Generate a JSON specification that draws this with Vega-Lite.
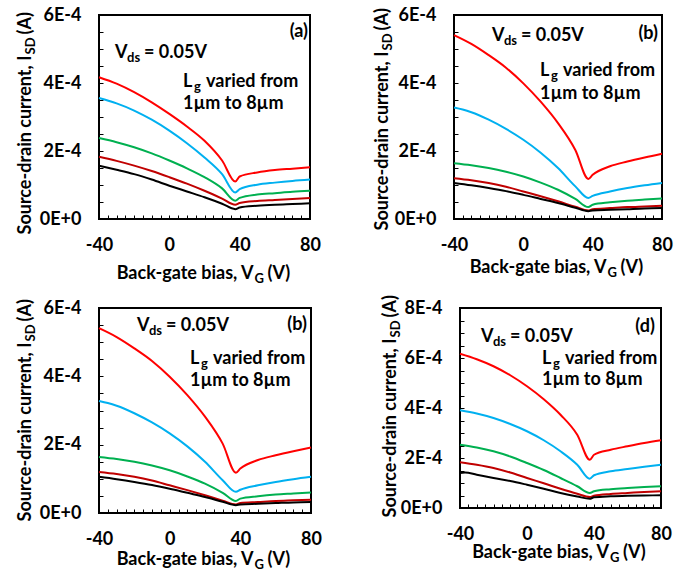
{
"$schema": "https://vega.github.io/schema/vega-lite/v6.json",
"padding": {"left": 14, "top": 5, "right": 5, "bottom": 5},
"spacing": 7,
"datasets": {
"a": [
{"V":-40,"I":4.17e-4,"s":"Lg1"},{"V":-30,"I":3.98e-4,"s":"Lg1"},{"V":-20,"I":3.73e-4,"s":"Lg1"},{"V":-10,"I":3.43e-4,"s":"Lg1"},{"V":0,"I":3.09e-4,"s":"Lg1"},{"V":10,"I":2.72e-4,"s":"Lg1"},{"V":20,"I":2.30e-4,"s":"Lg1"},{"V":30,"I":1.72e-4,"s":"Lg1"},{"V":37.5,"I":1.10e-4,"s":"Lg1"},{"V":40,"I":1.25e-4,"s":"Lg1"},{"V":50,"I":1.37e-4,"s":"Lg1"},{"V":60,"I":1.44e-4,"s":"Lg1"},{"V":70,"I":1.48e-4,"s":"Lg1"},{"V":80,"I":1.52e-4,"s":"Lg1"},
{"V":-40,"I":3.56e-4,"s":"Lg2"},{"V":-30,"I":3.40e-4,"s":"Lg2"},{"V":-20,"I":3.19e-4,"s":"Lg2"},{"V":-10,"I":2.92e-4,"s":"Lg2"},{"V":0,"I":2.60e-4,"s":"Lg2"},{"V":10,"I":2.23e-4,"s":"Lg2"},{"V":20,"I":1.81e-4,"s":"Lg2"},{"V":30,"I":1.32e-4,"s":"Lg2"},{"V":37.5,"I":0.78e-4,"s":"Lg2"},{"V":40,"I":0.88e-4,"s":"Lg2"},{"V":50,"I":1.01e-4,"s":"Lg2"},{"V":60,"I":1.07e-4,"s":"Lg2"},{"V":70,"I":1.12e-4,"s":"Lg2"},{"V":80,"I":1.16e-4,"s":"Lg2"},
{"V":-40,"I":2.38e-4,"s":"Lg3"},{"V":-30,"I":2.26e-4,"s":"Lg3"},{"V":-20,"I":2.11e-4,"s":"Lg3"},{"V":-10,"I":1.93e-4,"s":"Lg3"},{"V":0,"I":1.72e-4,"s":"Lg3"},{"V":10,"I":1.49e-4,"s":"Lg3"},{"V":20,"I":1.23e-4,"s":"Lg3"},{"V":30,"I":0.90e-4,"s":"Lg3"},{"V":37.5,"I":0.54e-4,"s":"Lg3"},{"V":40,"I":0.62e-4,"s":"Lg3"},{"V":50,"I":0.72e-4,"s":"Lg3"},{"V":60,"I":0.76e-4,"s":"Lg3"},{"V":70,"I":0.80e-4,"s":"Lg3"},{"V":80,"I":0.83e-4,"s":"Lg3"},
{"V":-40,"I":1.83e-4,"s":"Lg4"},{"V":-30,"I":1.71e-4,"s":"Lg4"},{"V":-20,"I":1.57e-4,"s":"Lg4"},{"V":-10,"I":1.41e-4,"s":"Lg4"},{"V":0,"I":1.23e-4,"s":"Lg4"},{"V":10,"I":1.04e-4,"s":"Lg4"},{"V":20,"I":0.83e-4,"s":"Lg4"},{"V":30,"I":0.60e-4,"s":"Lg4"},{"V":37.5,"I":0.42e-4,"s":"Lg4"},{"V":40,"I":0.47e-4,"s":"Lg4"},{"V":50,"I":0.53e-4,"s":"Lg4"},{"V":60,"I":0.56e-4,"s":"Lg4"},{"V":70,"I":0.59e-4,"s":"Lg4"},{"V":80,"I":0.62e-4,"s":"Lg4"},
{"V":-40,"I":1.57e-4,"s":"Lg5"},{"V":-30,"I":1.45e-4,"s":"Lg5"},{"V":-20,"I":1.32e-4,"s":"Lg5"},{"V":-10,"I":1.16e-4,"s":"Lg5"},{"V":0,"I":0.98e-4,"s":"Lg5"},{"V":10,"I":0.81e-4,"s":"Lg5"},{"V":20,"I":0.64e-4,"s":"Lg5"},{"V":30,"I":0.45e-4,"s":"Lg5"},{"V":37.5,"I":0.29e-4,"s":"Lg5"},{"V":40,"I":0.34e-4,"s":"Lg5"},{"V":50,"I":0.39e-4,"s":"Lg5"},{"V":60,"I":0.42e-4,"s":"Lg5"},{"V":70,"I":0.44e-4,"s":"Lg5"},{"V":80,"I":0.46e-4,"s":"Lg5"}
],
"b": [
{"V":-40,"I":5.41e-4,"s":"Lg1"},{"V":-30,"I":5.15e-4,"s":"Lg1"},{"V":-20,"I":4.82e-4,"s":"Lg1"},{"V":-10,"I":4.45e-4,"s":"Lg1"},{"V":0,"I":3.99e-4,"s":"Lg1"},{"V":10,"I":3.45e-4,"s":"Lg1"},{"V":20,"I":2.82e-4,"s":"Lg1"},{"V":30,"I":2.03e-4,"s":"Lg1"},{"V":37.5,"I":1.18e-4,"s":"Lg1"},{"V":40,"I":1.30e-4,"s":"Lg1"},{"V":50,"I":1.55e-4,"s":"Lg1"},{"V":60,"I":1.69e-4,"s":"Lg1"},{"V":70,"I":1.81e-4,"s":"Lg1"},{"V":80,"I":1.92e-4,"s":"Lg1"},
{"V":-40,"I":3.28e-4,"s":"Lg2"},{"V":-35,"I":3.22e-4,"s":"Lg2"},{"V":-30,"I":3.14e-4,"s":"Lg2"},{"V":-20,"I":2.92e-4,"s":"Lg2"},{"V":-10,"I":2.65e-4,"s":"Lg2"},{"V":0,"I":2.33e-4,"s":"Lg2"},{"V":10,"I":1.95e-4,"s":"Lg2"},{"V":20,"I":1.50e-4,"s":"Lg2"},{"V":30,"I":0.96e-4,"s":"Lg2"},{"V":37.5,"I":0.62e-4,"s":"Lg2"},{"V":40,"I":0.68e-4,"s":"Lg2"},{"V":50,"I":0.81e-4,"s":"Lg2"},{"V":60,"I":0.91e-4,"s":"Lg2"},{"V":70,"I":0.99e-4,"s":"Lg2"},{"V":80,"I":1.06e-4,"s":"Lg2"},
{"V":-40,"I":1.64e-4,"s":"Lg3"},{"V":-30,"I":1.58e-4,"s":"Lg3"},{"V":-20,"I":1.50e-4,"s":"Lg3"},{"V":-10,"I":1.39e-4,"s":"Lg3"},{"V":0,"I":1.25e-4,"s":"Lg3"},{"V":10,"I":1.07e-4,"s":"Lg3"},{"V":20,"I":0.86e-4,"s":"Lg3"},{"V":30,"I":0.59e-4,"s":"Lg3"},{"V":37.5,"I":0.35e-4,"s":"Lg3"},{"V":40,"I":0.42e-4,"s":"Lg3"},{"V":50,"I":0.49e-4,"s":"Lg3"},{"V":60,"I":0.54e-4,"s":"Lg3"},{"V":70,"I":0.57e-4,"s":"Lg3"},{"V":80,"I":0.60e-4,"s":"Lg3"},
{"V":-40,"I":1.20e-4,"s":"Lg4"},{"V":-30,"I":1.14e-4,"s":"Lg4"},{"V":-20,"I":1.06e-4,"s":"Lg4"},{"V":-10,"I":0.95e-4,"s":"Lg4"},{"V":0,"I":0.81e-4,"s":"Lg4"},{"V":10,"I":0.67e-4,"s":"Lg4"},{"V":20,"I":0.52e-4,"s":"Lg4"},{"V":30,"I":0.36e-4,"s":"Lg4"},{"V":37.5,"I":0.25e-4,"s":"Lg4"},{"V":40,"I":0.29e-4,"s":"Lg4"},{"V":50,"I":0.32e-4,"s":"Lg4"},{"V":60,"I":0.35e-4,"s":"Lg4"},{"V":70,"I":0.37e-4,"s":"Lg4"},{"V":80,"I":0.39e-4,"s":"Lg4"},
{"V":-40,"I":1.06e-4,"s":"Lg5"},{"V":-30,"I":0.99e-4,"s":"Lg5"},{"V":-20,"I":0.91e-4,"s":"Lg5"},{"V":-10,"I":0.82e-4,"s":"Lg5"},{"V":0,"I":0.71e-4,"s":"Lg5"},{"V":10,"I":0.59e-4,"s":"Lg5"},{"V":20,"I":0.47e-4,"s":"Lg5"},{"V":30,"I":0.33e-4,"s":"Lg5"},{"V":37.5,"I":0.23e-4,"s":"Lg5"},{"V":40,"I":0.25e-4,"s":"Lg5"},{"V":50,"I":0.27e-4,"s":"Lg5"},{"V":60,"I":0.29e-4,"s":"Lg5"},{"V":70,"I":0.31e-4,"s":"Lg5"},{"V":80,"I":0.32e-4,"s":"Lg5"}
],
"d": [
{"V":-40,"I":6.17e-4,"s":"Lg1"},{"V":-30,"I":5.95e-4,"s":"Lg1"},{"V":-20,"I":5.67e-4,"s":"Lg1"},{"V":-10,"I":5.31e-4,"s":"Lg1"},{"V":0,"I":4.87e-4,"s":"Lg1"},{"V":10,"I":4.35e-4,"s":"Lg1"},{"V":20,"I":3.73e-4,"s":"Lg1"},{"V":30,"I":2.93e-4,"s":"Lg1"},{"V":37.5,"I":1.93e-4,"s":"Lg1"},{"V":40,"I":2.13e-4,"s":"Lg1"},{"V":50,"I":2.33e-4,"s":"Lg1"},{"V":60,"I":2.47e-4,"s":"Lg1"},{"V":70,"I":2.60e-4,"s":"Lg1"},{"V":80,"I":2.71e-4,"s":"Lg1"},
{"V":-40,"I":3.91e-4,"s":"Lg2"},{"V":-30,"I":3.78e-4,"s":"Lg2"},{"V":-20,"I":3.60e-4,"s":"Lg2"},{"V":-10,"I":3.36e-4,"s":"Lg2"},{"V":0,"I":3.07e-4,"s":"Lg2"},{"V":10,"I":2.71e-4,"s":"Lg2"},{"V":20,"I":2.27e-4,"s":"Lg2"},{"V":30,"I":1.73e-4,"s":"Lg2"},{"V":37.5,"I":1.17e-4,"s":"Lg2"},{"V":40,"I":1.31e-4,"s":"Lg2"},{"V":50,"I":1.47e-4,"s":"Lg2"},{"V":60,"I":1.56e-4,"s":"Lg2"},{"V":70,"I":1.65e-4,"s":"Lg2"},{"V":80,"I":1.73e-4,"s":"Lg2"},
{"V":-40,"I":2.53e-4,"s":"Lg3"},{"V":-30,"I":2.42e-4,"s":"Lg3"},{"V":-20,"I":2.27e-4,"s":"Lg3"},{"V":-10,"I":2.06e-4,"s":"Lg3"},{"V":0,"I":1.80e-4,"s":"Lg3"},{"V":10,"I":1.52e-4,"s":"Lg3"},{"V":20,"I":1.20e-4,"s":"Lg3"},{"V":30,"I":0.87e-4,"s":"Lg3"},{"V":37.5,"I":0.60e-4,"s":"Lg3"},{"V":40,"I":0.67e-4,"s":"Lg3"},{"V":50,"I":0.75e-4,"s":"Lg3"},{"V":60,"I":0.80e-4,"s":"Lg3"},{"V":70,"I":0.84e-4,"s":"Lg3"},{"V":80,"I":0.87e-4,"s":"Lg3"},
{"V":-40,"I":1.83e-4,"s":"Lg4"},{"V":-30,"I":1.73e-4,"s":"Lg4"},{"V":-20,"I":1.60e-4,"s":"Lg4"},{"V":-10,"I":1.42e-4,"s":"Lg4"},{"V":0,"I":1.20e-4,"s":"Lg4"},{"V":10,"I":0.99e-4,"s":"Lg4"},{"V":20,"I":0.77e-4,"s":"Lg4"},{"V":30,"I":0.57e-4,"s":"Lg4"},{"V":37.5,"I":0.44e-4,"s":"Lg4"},{"V":40,"I":0.49e-4,"s":"Lg4"},{"V":50,"I":0.56e-4,"s":"Lg4"},{"V":60,"I":0.60e-4,"s":"Lg4"},{"V":70,"I":0.64e-4,"s":"Lg4"},{"V":80,"I":0.67e-4,"s":"Lg4"},
{"V":-40,"I":1.40e-4,"s":"Lg5"},{"V":-37,"I":1.42e-4,"s":"Lg5"},{"V":-30,"I":1.33e-4,"s":"Lg5"},{"V":-20,"I":1.20e-4,"s":"Lg5"},{"V":-10,"I":1.08e-4,"s":"Lg5"},{"V":0,"I":0.93e-4,"s":"Lg5"},{"V":10,"I":0.77e-4,"s":"Lg5"},{"V":20,"I":0.60e-4,"s":"Lg5"},{"V":30,"I":0.46e-4,"s":"Lg5"},{"V":37.5,"I":0.37e-4,"s":"Lg5"},{"V":40,"I":0.43e-4,"s":"Lg5"},{"V":50,"I":0.47e-4,"s":"Lg5"},{"V":60,"I":0.49e-4,"s":"Lg5"},{"V":70,"I":0.50e-4,"s":"Lg5"},{"V":80,"I":0.51e-4,"s":"Lg5"}
]
},
"vconcat": [
{"hconcat": [
{"width": 211, "height": 204,
 "layer": [
  {"data": {"name": "a"}, "mark": "line", "encoding": {
    "x": {"field": "V", "type": "quantitative", "scale": {"domain": [-40, 80], "nice": false},
      "axis": {"orient": "bottom", "offset": -4, "values": [-40,-35,-30,-25,-20,-15,-10,-5,0,5,10,15,20,25,30,35,40,45,50,55,60,65,70,75,80], "labelExpr": "datum.value % 40 == 0 ? '' + datum.value : ''", "title": "Back-gate bias, V", "titleAlign": "right", "titleBaseline": "alphabetic", "titleAngle": 0, "titleX": 154, "titleY": 63}},
    "y": {"field": "I", "type": "quantitative", "scale": {"domain": [0, 0.0006], "nice": false},
      "axis": {"orient": "left", "offset": -4, "values": [0,0.00005,0.0001,0.00015,0.0002,0.00025,0.0003,0.00035,0.0004,0.00045,0.0005,0.00055,0.0006], "labelExpr": "indexof([0,0.0002,0.0004,0.0006,0.0008], datum.value) >= 0 ? replace(format(datum.value, '.0e'), 'e', 'E') : ''", "title": "Source-drain current, I", "titleAlign": "right", "titleBaseline": "alphabetic", "titleAngle": -90, "titleX": -73, "titleY": 40}},
    "color": {"field": "s", "type": "nominal", "scale": {"domain": ["Lg1","Lg2","Lg3","Lg4","Lg5"], "range": ["#ff0000","#00b0f0","#00b050","#c00000","#000000"]}, "legend": null}}},
  {"data": {"values": [{"t": "V"}]}, "mark": {"type": "text"}, "encoding": {
    "x": {"datum": -30.9, "type": "quantitative", "axis": {"orient": "bottom", "labels": false, "ticks": false, "title": "G", "titleFontSize": 13, "titleAlign": "left", "titleBaseline": "alphabetic", "titleAngle": 0, "titleX": 155, "titleY": 63}},
    "y": {"datum": 0.000474, "type": "quantitative", "axis": {"orient": "left", "labels": false, "ticks": false, "title": "SD", "titleFontSize": 13, "titleAlign": "left", "titleBaseline": "alphabetic", "titleAngle": -90, "titleX": -65, "titleY": 39}},
    "text": {"field": "t"}}},
  {"data": {"values": [{"t": "ds"}]}, "mark": {"type": "text", "dx": 12, "dy": 4, "fontSize": 13}, "encoding": {
    "x": {"datum": -30.9, "type": "quantitative", "axis": {"orient": "bottom", "labels": false, "ticks": false, "title": "(V)", "titleAlign": "left", "titleBaseline": "alphabetic", "titleAngle": 0, "titleX": 168, "titleY": 59}},
    "y": {"datum": 0.000474, "type": "quantitative", "axis": {"orient": "left", "labels": false, "ticks": false, "title": "(A)", "titleAlign": "left", "titleBaseline": "alphabetic", "titleAngle": -90, "titleX": -69, "titleY": 19}},
    "text": {"field": "t"}}},
  {"data": {"values": [{"t": "= 0.05V"}]}, "mark": {"type": "text", "dx": 29}, "encoding": {"x": {"datum": -30.9, "type": "quantitative", "axis": null}, "y": {"datum": 0.000474, "type": "quantitative", "axis": null}, "text": {"field": "t"}}},
  {"data": {"values": [{"t": "L"}]}, "mark": {"type": "text"}, "encoding": {"x": {"datum": 7.8, "type": "quantitative", "axis": null}, "y": {"datum": 0.000388, "type": "quantitative", "axis": null}, "text": {"field": "t"}}},
  {"data": {"values": [{"t": "g"}]}, "mark": {"type": "text", "dx": 11, "dy": 4, "fontSize": 13}, "encoding": {"x": {"datum": 7.8, "type": "quantitative", "axis": null}, "y": {"datum": 0.000388, "type": "quantitative", "axis": null}, "text": {"field": "t"}}},
  {"data": {"values": [{"t": "varied from"}]}, "mark": {"type": "text", "dx": 23}, "encoding": {"x": {"datum": 7.8, "type": "quantitative", "axis": null}, "y": {"datum": 0.000388, "type": "quantitative", "axis": null}, "text": {"field": "t"}}},
  {"data": {"values": [{"t": "1µm to 8µm"}]}, "mark": {"type": "text"}, "encoding": {"x": {"datum": 7.8, "type": "quantitative", "axis": null}, "y": {"datum": 0.000324, "type": "quantitative", "axis": null}, "text": {"field": "t"}}},
  {"data": {"values": [{"t": "(a)"}]}, "mark": {"type": "text", "align": "right"}, "encoding": {"x": {"datum": 78.9, "type": "quantitative", "axis": null}, "y": {"datum": 0.000536, "type": "quantitative", "axis": null}, "text": {"field": "t"}}}
 ],
 "resolve": {"axis": {"x": "independent", "y": "independent"}}
},
{"width": 208, "height": 204,
 "layer": [
  {"data": {"name": "b"}, "mark": "line", "encoding": {
    "x": {"field": "V", "type": "quantitative", "scale": {"domain": [-40, 80], "nice": false},
      "axis": {"orient": "bottom", "offset": -4, "values": [-40,-35,-30,-25,-20,-15,-10,-5,0,5,10,15,20,25,30,35,40,45,50,55,60,65,70,75,80], "labelExpr": "datum.value % 40 == 0 ? '' + datum.value : ''", "title": "Back-gate bias, V", "titleAlign": "right", "titleBaseline": "alphabetic", "titleAngle": 0, "titleX": 152, "titleY": 57}},
    "y": {"field": "I", "type": "quantitative", "scale": {"domain": [0, 0.0006], "nice": false},
      "axis": {"orient": "left", "offset": -4, "values": [0,0.00005,0.0001,0.00015,0.0002,0.00025,0.0003,0.00035,0.0004,0.00045,0.0005,0.00055,0.0006], "labelExpr": "indexof([0,0.0002,0.0004,0.0006,0.0008], datum.value) >= 0 ? replace(format(datum.value, '.0e'), 'e', 'E') : ''", "title": "Source-drain current, I", "titleAlign": "right", "titleBaseline": "alphabetic", "titleAngle": -90, "titleX": -71, "titleY": 36}},
    "color": {"field": "s", "type": "nominal", "scale": {"domain": ["Lg1","Lg2","Lg3","Lg4","Lg5"], "range": ["#ff0000","#00b0f0","#00b050","#c00000","#000000"]}, "legend": null}}},
  {"data": {"values": [{"t": "V"}]}, "mark": {"type": "text"}, "encoding": {
    "x": {"datum": -18.1, "type": "quantitative", "axis": {"orient": "bottom", "labels": false, "ticks": false, "title": "G", "titleFontSize": 13, "titleAlign": "left", "titleBaseline": "alphabetic", "titleAngle": 0, "titleX": 153, "titleY": 57}},
    "y": {"datum": 0.000524, "type": "quantitative", "axis": {"orient": "left", "labels": false, "ticks": false, "title": "SD", "titleFontSize": 13, "titleAlign": "left", "titleBaseline": "alphabetic", "titleAngle": -90, "titleX": -63, "titleY": 35}},
    "text": {"field": "t"}}},
  {"data": {"values": [{"t": "ds"}]}, "mark": {"type": "text", "dx": 12, "dy": 4, "fontSize": 13}, "encoding": {
    "x": {"datum": -18.1, "type": "quantitative", "axis": {"orient": "bottom", "labels": false, "ticks": false, "title": "(V)", "titleAlign": "left", "titleBaseline": "alphabetic", "titleAngle": 0, "titleX": 166, "titleY": 53}},
    "y": {"datum": 0.000524, "type": "quantitative", "axis": {"orient": "left", "labels": false, "ticks": false, "title": "(A)", "titleAlign": "left", "titleBaseline": "alphabetic", "titleAngle": -90, "titleX": -67, "titleY": 15}},
    "text": {"field": "t"}}},
  {"data": {"values": [{"t": "= 0.05V"}]}, "mark": {"type": "text", "dx": 29}, "encoding": {"x": {"datum": -18.1, "type": "quantitative", "axis": null}, "y": {"datum": 0.000524, "type": "quantitative", "axis": null}, "text": {"field": "t"}}},
  {"data": {"values": [{"t": "L"}]}, "mark": {"type": "text"}, "encoding": {"x": {"datum": 9.6, "type": "quantitative", "axis": null}, "y": {"datum": 0.000421, "type": "quantitative", "axis": null}, "text": {"field": "t"}}},
  {"data": {"values": [{"t": "g"}]}, "mark": {"type": "text", "dx": 11, "dy": 4, "fontSize": 13}, "encoding": {"x": {"datum": 9.6, "type": "quantitative", "axis": null}, "y": {"datum": 0.000421, "type": "quantitative", "axis": null}, "text": {"field": "t"}}},
  {"data": {"values": [{"t": "varied from"}]}, "mark": {"type": "text", "dx": 23}, "encoding": {"x": {"datum": 9.6, "type": "quantitative", "axis": null}, "y": {"datum": 0.000421, "type": "quantitative", "axis": null}, "text": {"field": "t"}}},
  {"data": {"values": [{"t": "1µm to 8µm"}]}, "mark": {"type": "text"}, "encoding": {"x": {"datum": 9.6, "type": "quantitative", "axis": null}, "y": {"datum": 0.000354, "type": "quantitative", "axis": null}, "text": {"field": "t"}}},
  {"data": {"values": [{"t": "(b)"}]}, "mark": {"type": "text", "align": "right"}, "encoding": {"x": {"datum": 77.7, "type": "quantitative", "axis": null}, "y": {"datum": 0.000529, "type": "quantitative", "axis": null}, "text": {"field": "t"}}}
 ],
 "resolve": {"axis": {"x": "independent", "y": "independent"}}
}
], "spacing": 49},
{"hconcat": [
{"width": 212, "height": 205,
 "layer": [
  {"data": {"name": "b"}, "mark": "line", "encoding": {
    "x": {"field": "V", "type": "quantitative", "scale": {"domain": [-40, 80], "nice": false},
      "axis": {"orient": "bottom", "offset": -4, "values": [-40,-35,-30,-25,-20,-15,-10,-5,0,5,10,15,20,25,30,35,40,45,50,55,60,65,70,75,80], "labelExpr": "datum.value % 40 == 0 ? '' + datum.value : ''", "title": "Back-gate bias, V", "titleAlign": "right", "titleBaseline": "alphabetic", "titleAngle": 0, "titleX": 154, "titleY": 55}},
    "y": {"field": "I", "type": "quantitative", "scale": {"domain": [0, 0.0006], "nice": false},
      "axis": {"orient": "left", "offset": -4, "values": [0,0.00005,0.0001,0.00015,0.0002,0.00025,0.0003,0.00035,0.0004,0.00045,0.0005,0.00055,0.0006], "labelExpr": "indexof([0,0.0002,0.0004,0.0006,0.0008], datum.value) >= 0 ? replace(format(datum.value, '.0e'), 'e', 'E') : ''", "title": "Source-drain current, I", "titleAlign": "right", "titleBaseline": "alphabetic", "titleAngle": -90, "titleX": -73, "titleY": 34}},
    "color": {"field": "s", "type": "nominal", "scale": {"domain": ["Lg1","Lg2","Lg3","Lg4","Lg5"], "range": ["#ff0000","#00b0f0","#00b050","#c00000","#000000"]}, "legend": null}}},
  {"data": {"values": [{"t": "V"}]}, "mark": {"type": "text"}, "encoding": {
    "x": {"datum": -18.5, "type": "quantitative", "axis": {"orient": "bottom", "labels": false, "ticks": false, "title": "G", "titleFontSize": 13, "titleAlign": "left", "titleBaseline": "alphabetic", "titleAngle": 0, "titleX": 155, "titleY": 55}},
    "y": {"datum": 0.000533, "type": "quantitative", "axis": {"orient": "left", "labels": false, "ticks": false, "title": "SD", "titleFontSize": 13, "titleAlign": "left", "titleBaseline": "alphabetic", "titleAngle": -90, "titleX": -65, "titleY": 33}},
    "text": {"field": "t"}}},
  {"data": {"values": [{"t": "ds"}]}, "mark": {"type": "text", "dx": 12, "dy": 4, "fontSize": 13}, "encoding": {
    "x": {"datum": -18.5, "type": "quantitative", "axis": {"orient": "bottom", "labels": false, "ticks": false, "title": "(V)", "titleAlign": "left", "titleBaseline": "alphabetic", "titleAngle": 0, "titleX": 168, "titleY": 51}},
    "y": {"datum": 0.000533, "type": "quantitative", "axis": {"orient": "left", "labels": false, "ticks": false, "title": "(A)", "titleAlign": "left", "titleBaseline": "alphabetic", "titleAngle": -90, "titleX": -69, "titleY": 13}},
    "text": {"field": "t"}}},
  {"data": {"values": [{"t": "= 0.05V"}]}, "mark": {"type": "text", "dx": 29}, "encoding": {"x": {"datum": -18.5, "type": "quantitative", "axis": null}, "y": {"datum": 0.000533, "type": "quantitative", "axis": null}, "text": {"field": "t"}}},
  {"data": {"values": [{"t": "L"}]}, "mark": {"type": "text"}, "encoding": {"x": {"datum": 11.5, "type": "quantitative", "axis": null}, "y": {"datum": 0.000436, "type": "quantitative", "axis": null}, "text": {"field": "t"}}},
  {"data": {"values": [{"t": "g"}]}, "mark": {"type": "text", "dx": 11, "dy": 4, "fontSize": 13}, "encoding": {"x": {"datum": 11.5, "type": "quantitative", "axis": null}, "y": {"datum": 0.000436, "type": "quantitative", "axis": null}, "text": {"field": "t"}}},
  {"data": {"values": [{"t": "varied from"}]}, "mark": {"type": "text", "dx": 23}, "encoding": {"x": {"datum": 11.5, "type": "quantitative", "axis": null}, "y": {"datum": 0.000436, "type": "quantitative", "axis": null}, "text": {"field": "t"}}},
  {"data": {"values": [{"t": "1µm to 8µm"}]}, "mark": {"type": "text"}, "encoding": {"x": {"datum": 11.5, "type": "quantitative", "axis": null}, "y": {"datum": 0.000372, "type": "quantitative", "axis": null}, "text": {"field": "t"}}},
  {"data": {"values": [{"t": "(b)"}]}, "mark": {"type": "text", "align": "right"}, "encoding": {"x": {"datum": 77.7, "type": "quantitative", "axis": null}, "y": {"datum": 0.000535, "type": "quantitative", "axis": null}, "text": {"field": "t"}}}
 ],
 "resolve": {"axis": {"x": "independent", "y": "independent"}}
},
{"width": 201, "height": 200,
 "layer": [
  {"data": {"name": "d"}, "mark": "line", "encoding": {
    "x": {"field": "V", "type": "quantitative", "scale": {"domain": [-40, 80], "nice": false},
      "axis": {"orient": "bottom", "offset": -4, "values": [-40,-35,-30,-25,-20,-15,-10,-5,0,5,10,15,20,25,30,35,40,45,50,55,60,65,70,75,80], "labelExpr": "datum.value % 40 == 0 ? '' + datum.value : ''", "title": "Back-gate bias, V", "titleAlign": "right", "titleBaseline": "alphabetic", "titleAngle": 0, "titleX": 148.5, "titleY": 53}},
    "y": {"field": "I", "type": "quantitative", "scale": {"domain": [0, 0.0008], "nice": false},
      "axis": {"orient": "left", "offset": -4, "values": [0,0.00005,0.0001,0.00015,0.0002,0.00025,0.0003,0.00035,0.0004,0.00045,0.0005,0.00055,0.0006,0.00065,0.0007,0.00075,0.0008], "labelExpr": "indexof([0,0.0002,0.0004,0.0006,0.0008], datum.value) >= 0 ? replace(format(datum.value, '.0e'), 'e', 'E') : ''", "title": "Source-drain current, I", "titleAlign": "right", "titleBaseline": "alphabetic", "titleAngle": -90, "titleX": -69, "titleY": 30}},
    "color": {"field": "s", "type": "nominal", "scale": {"domain": ["Lg1","Lg2","Lg3","Lg4","Lg5"], "range": ["#ff0000","#00b0f0","#00b050","#c00000","#000000"]}, "legend": null}}},
  {"data": {"values": [{"t": "V"}]}, "mark": {"type": "text"}, "encoding": {
    "x": {"datum": -27.5, "type": "quantitative", "axis": {"orient": "bottom", "labels": false, "ticks": false, "title": "G", "titleFontSize": 13, "titleAlign": "left", "titleBaseline": "alphabetic", "titleAngle": 0, "titleX": 149.5, "titleY": 53}},
    "y": {"datum": 0.000664, "type": "quantitative", "axis": {"orient": "left", "labels": false, "ticks": false, "title": "SD", "titleFontSize": 13, "titleAlign": "left", "titleBaseline": "alphabetic", "titleAngle": -90, "titleX": -61, "titleY": 29}},
    "text": {"field": "t"}}},
  {"data": {"values": [{"t": "ds"}]}, "mark": {"type": "text", "dx": 12, "dy": 4, "fontSize": 13}, "encoding": {
    "x": {"datum": -27.5, "type": "quantitative", "axis": {"orient": "bottom", "labels": false, "ticks": false, "title": "(V)", "titleAlign": "left", "titleBaseline": "alphabetic", "titleAngle": 0, "titleX": 162.5, "titleY": 49}},
    "y": {"datum": 0.000664, "type": "quantitative", "axis": {"orient": "left", "labels": false, "ticks": false, "title": "(A)", "titleAlign": "left", "titleBaseline": "alphabetic", "titleAngle": -90, "titleX": -65, "titleY": 9}},
    "text": {"field": "t"}}},
  {"data": {"values": [{"t": "= 0.05V"}]}, "mark": {"type": "text", "dx": 29}, "encoding": {"x": {"datum": -27.5, "type": "quantitative", "axis": null}, "y": {"datum": 0.000664, "type": "quantitative", "axis": null}, "text": {"field": "t"}}},
  {"data": {"values": [{"t": "L"}]}, "mark": {"type": "text"}, "encoding": {"x": {"datum": 9, "type": "quantitative", "axis": null}, "y": {"datum": 0.000576, "type": "quantitative", "axis": null}, "text": {"field": "t"}}},
  {"data": {"values": [{"t": "g"}]}, "mark": {"type": "text", "dx": 11, "dy": 4, "fontSize": 13}, "encoding": {"x": {"datum": 9, "type": "quantitative", "axis": null}, "y": {"datum": 0.000576, "type": "quantitative", "axis": null}, "text": {"field": "t"}}},
  {"data": {"values": [{"t": "varied from"}]}, "mark": {"type": "text", "dx": 23}, "encoding": {"x": {"datum": 9, "type": "quantitative", "axis": null}, "y": {"datum": 0.000576, "type": "quantitative", "axis": null}, "text": {"field": "t"}}},
  {"data": {"values": [{"t": "1µm to 8µm"}]}, "mark": {"type": "text"}, "encoding": {"x": {"datum": 9, "type": "quantitative", "axis": null}, "y": {"datum": 0.000493, "type": "quantitative", "axis": null}, "text": {"field": "t"}}},
  {"data": {"values": [{"t": "(d)"}]}, "mark": {"type": "text", "align": "right"}, "encoding": {"x": {"datum": 76.4, "type": "quantitative", "axis": null}, "y": {"datum": 0.000704, "type": "quantitative", "axis": null}, "text": {"field": "t"}}}
 ],
 "resolve": {"axis": {"x": "independent", "y": "independent"}}
}
], "spacing": 56}
],
"config": {
  "font": "Lato",
  "view": {"stroke": "#000000", "strokeWidth": 2},
  "axis": {"grid": false, "domain": false, "tickColor": "#000000", "tickWidth": 1, "tickSize": 4,
    "labelFont": "Lato", "labelFontWeight": "bold", "labelFontSize": 18, "labelColor": "#000000",
    "titleFont": "Lato", "titleFontWeight": "bold", "titleFontSize": 18, "titleColor": "#000000",
    "labelOverlap": false, "labelFlush": false},
  "axisX": {"labelPadding": 17},
  "axisY": {"labelPadding": 18},
  "text": {"font": "Lato", "fontWeight": "bold", "fontSize": 18, "color": "#000000", "align": "left", "baseline": "alphabetic"},
  "line": {"strokeWidth": 2, "interpolate": "monotone"}
}
}
